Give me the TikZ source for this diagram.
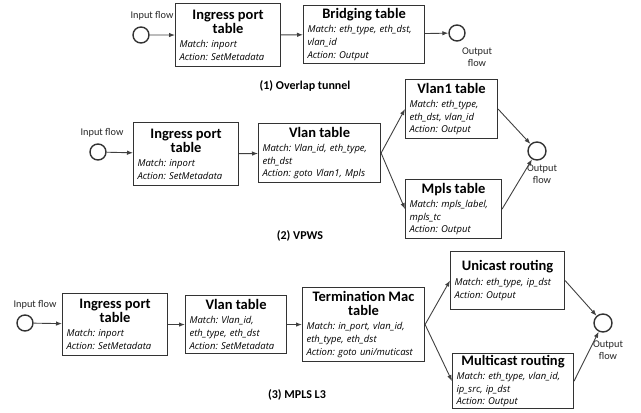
\documentclass[tikz,border=0pt]{standalone}
\usepackage{fontspec}
\setmainfont{Carlito}
\newfontfamily\bodyfont{Open Sans}
\usetikzlibrary{arrows.meta,positioning}
\tikzset{
    tbl/.style={
        draw=black!80,
        line width=1.1pt,
        anchor=north west,
        inner xsep=4pt,
        inner ysep=1pt,
        text width=#1,
        font=\bodyfont\fontsize{9.5}{12.8}\selectfont\itshape\frenchspacing,
    },
    flow/.style={
        circle,
        draw=black!80,
        line width=1.4pt,
        minimum size=16pt,
        inner sep=0pt,
    },
    lbl/.style={font=\fontsize{10.3}{12}\selectfont, text=black!85, align=center},
    caption/.style={font=\fontsize{12}{14}\selectfont\bfseries},
}
\newcommand{\tabtitle}[1]{{\rmfamily\fontsize{14.5}{14}\selectfont\bfseries\upshape\centering #1\par}\vskip1.5pt\raggedright\itshape}

\begin{document}
\begin{tikzpicture}[x=1pt,y=-1pt,>={Latex[length=6pt,width=4.5pt]},
    every edge/.style={draw=black!75, line width=0.9pt}]
    \useasboundingbox (0,0) rectangle (641,413);

    % (1) Overlap tunnel
    \node [flow] (in1) at (141,35) {};
    \node [lbl] (in1txt) at (152,16) {Input flow};
    \node [tbl=97, minimum height=63] (A1) at (175,3) {\tabtitle{Ingress port\\table}Match: inport\\Action: SetMetadata};
    \node [tbl=113, minimum height=58] (A2) at (303,5) {\tabtitle{Bridging table}Match: eth\_type, eth\_dst,\\vlan\_id\\Action: Output};
    \node [flow] (out1) at (457,33) {};
    \node [lbl] (out1txt) at (477,57.5) {Output\\flow};
    \node [caption] (cap1) at (305,86) {(1) Overlap tunnel};

    \path[->] (in1) edge (A1);
    \path[->] (A1) edge (A2);
    \path[->] (A2) edge (out1);

    % (2) VPWS
    \node [flow] (in2) at (98,152) {};
    \node [lbl] (in2txt) at (102,133) {Input flow};
    \node [tbl=97, minimum height=63] (B1) at (133,122) {\tabtitle{Ingress port\\table}Match: inport\\Action: SetMetadata};
    \node [tbl=114, minimum height=59] (B2) at (258,123) {\tabtitle{Vlan table}Match: Vlan\_id, eth\_type,\\eth\_dst\\Action: goto Vlan1, Mpls};
    \node [tbl=84, minimum height=59] (B3) at (405,79) {\tabtitle{Vlan1 table}Match: eth\_type,\\eth\_dst, vlan\_id\\Action: Output};
    \node [tbl=88, minimum height=59] (B4) at (405,179) {\tabtitle{Mpls table}Match: mpls\_label,\\mpls\_tc\\Action: Output};
    \node [flow, minimum size=18pt] (out2) at (537,151) {};
    \node [lbl] (out2txt) at (542,174) {Output\\flow};
    \node [caption] (cap2) at (300,236) {(2) VPWS};

    \path[->] (in2) edge (B1);
    \path[->] (B1) edge (B2);
    \path[->] (B2.east) edge (B3.west);
    \path[->] (B2.east) edge (B4.west);
    \path[->] (B3.east) edge (out2);
    \path[->] (B4.east) edge (out2);

    % (3) MPLS L3
    \node [flow] (in3) at (25,323) {};
    \node [lbl] (in3txt) at (35,305) {Input flow};
    \node [tbl=97, minimum height=62] (C1) at (62,293) {\tabtitle{Ingress port\\table}Match: inport\\Action: SetMetadata};
    \node [tbl=93, minimum height=58] (C2) at (185,295) {\tabtitle{Vlan table}Match: Vlan\_id,\\eth\_type, eth\_dst\\Action: SetMetadata};
    \node [tbl=114, minimum height=74] (C3) at (302,287) {\tabtitle{Termination Mac\\table}Match: in\_port, vlan\_id,\\eth\_type, eth\_dst\\Action: goto uni/muticast};
    \node [tbl=106, minimum height=58] (C4) at (450,251) {\tabtitle{Unicast routing}Match: eth\_type, ip\_dst\\Action: Output};
    \node [tbl=113, minimum height=55] (C5) at (452,353) {\tabtitle{Multicast routing}Match: eth\_type, vlan\_id,\\ip\_src, ip\_dst\\Action: Output};
    \node [flow, minimum size=18pt] (out3) at (603,323) {};
    \node [lbl] (out3txt) at (608,350.5) {Output\\flow};
    \node [caption] (cap3) at (297,395) {(3) MPLS L3};

    \path[->] (in3) edge (C1);
    \path[->] (C1) edge (C2);
    \path[->] (C2) edge (C3);
    \path[->] (C3.east) edge (C4.west);
    \path[->] (C3.east) edge (C5.west);
    \path[->] (C4.east) edge (out3);
    \path[->] (C5.east) edge (out3);
\end{tikzpicture}
\end{document}
